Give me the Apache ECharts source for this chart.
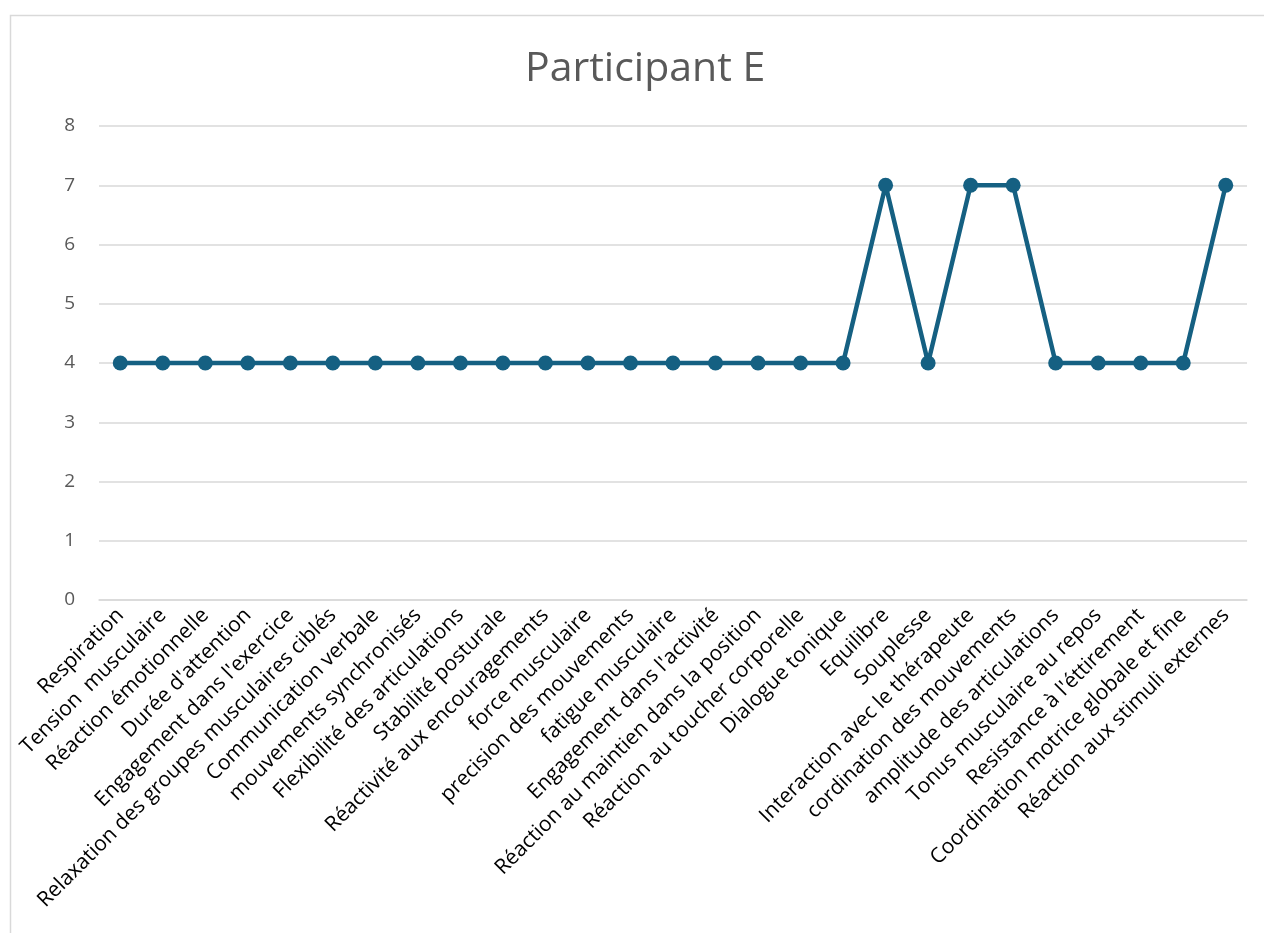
<!DOCTYPE html>
<html>
<head>
<meta charset="utf-8">
<script src="https://cdn.jsdelivr.net/npm/echarts@6/dist/echarts.min.js"></script>
<style>
  html, body { margin: 0; padding: 0; background: #ffffff; }
  #chart { width: 1264px; height: 933px; }
</style>
</head>
<body>
<div id="chart"></div>
<script>
// Critères évalués
const categories = [
  "Respiration",
  "Tension  musculaire",
  "Réaction émotionnelle",
  "Durée d'attention",
  "Engagement dans l'exercice",
  "Relaxation des groupes musculaires ciblés",
  "Communication verbale",
  "mouvements synchronisés",
  "Flexibilité des articulations",
  "Stabilité posturale",
  "Réactivité aux encouragements",
  "force musculaire",
  "precision des mouvements",
  "fatigue musculaire",
  "Engagement dans l'activité",
  "Réaction au maintien dans la position",
  "Réaction au toucher corporelle",
  "Dialogue tonique",
  "Equilibre",
  "Souplesse",
  "Interaction avec le thérapeute",
  "cordination des mouvements",
  "amplitude des articulations",
  "Tonus musculaire au repos",
  "Resistance à l'éttirement",
  "Coordination motrice globale et fine",
  "Réaction aux stimuli externes"
];

// Scores du participant E
const scores = [4, 4, 4, 4, 4, 4, 4, 4, 4, 4, 4, 4, 4, 4, 4, 4, 4, 4, 7, 4, 7, 7, 4, 4, 4, 4, 7];

// Graduations de l'axe vertical
const yTicks = [0, 1, 2, 3, 4, 5, 6, 7, 8];

const chart = echarts.init(document.getElementById('chart'), null, { renderer: 'canvas' });
const FONT = '"Open Sans", "Noto Sans", sans-serif';

chart.setOption({
  backgroundColor: '#ffffff',
  animation: false,
  graphic: [{
    type: 'rect',
    shape: { x: 10.5, y: 15.5, width: 1300, height: 1000 },
    style: { fill: 'none', stroke: '#d9d9d9', lineWidth: 1.5 },
    silent: true
  }],
  title: {
    text: 'Participant E',
    left: 520,
    top: 44,
    textStyle: { fontFamily: FONT, fontSize: 41, fontWeight: 'normal', color: '#595959' }
  },
  grid: { left: 99, right: 17, top: 126, bottom: 333, containLabel: false },
  xAxis: {
    type: 'category',
    data: categories,
    boundaryGap: true,
    axisLine: { show: true, lineStyle: { color: '#d9d9d9', width: 1.5 } },
    axisTick: { show: false },
    axisLabel: {
      interval: 0,
      rotate: 45,
      margin: 12,
      fontFamily: FONT,
      fontSize: 21,
      color: '#000000'
    }
  },
  yAxis: {
    type: 'value',
    min: yTicks[0],
    max: yTicks[yTicks.length - 1],
    interval: 1,
    axisLine: { show: false },
    axisTick: { show: false },
    splitLine: { lineStyle: { color: '#d9d9d9', width: 1.5 } },
    axisLabel: { margin: 24, fontFamily: FONT, fontSize: 19, color: '#595959' }
  },
  series: [{
    type: 'line',
    data: scores,
    symbol: 'circle',
    symbolSize: 15,
    lineStyle: { color: '#156082', width: 4.5 },
    itemStyle: { color: '#156082' }
  }]
});
</script>
</body>
</html>
